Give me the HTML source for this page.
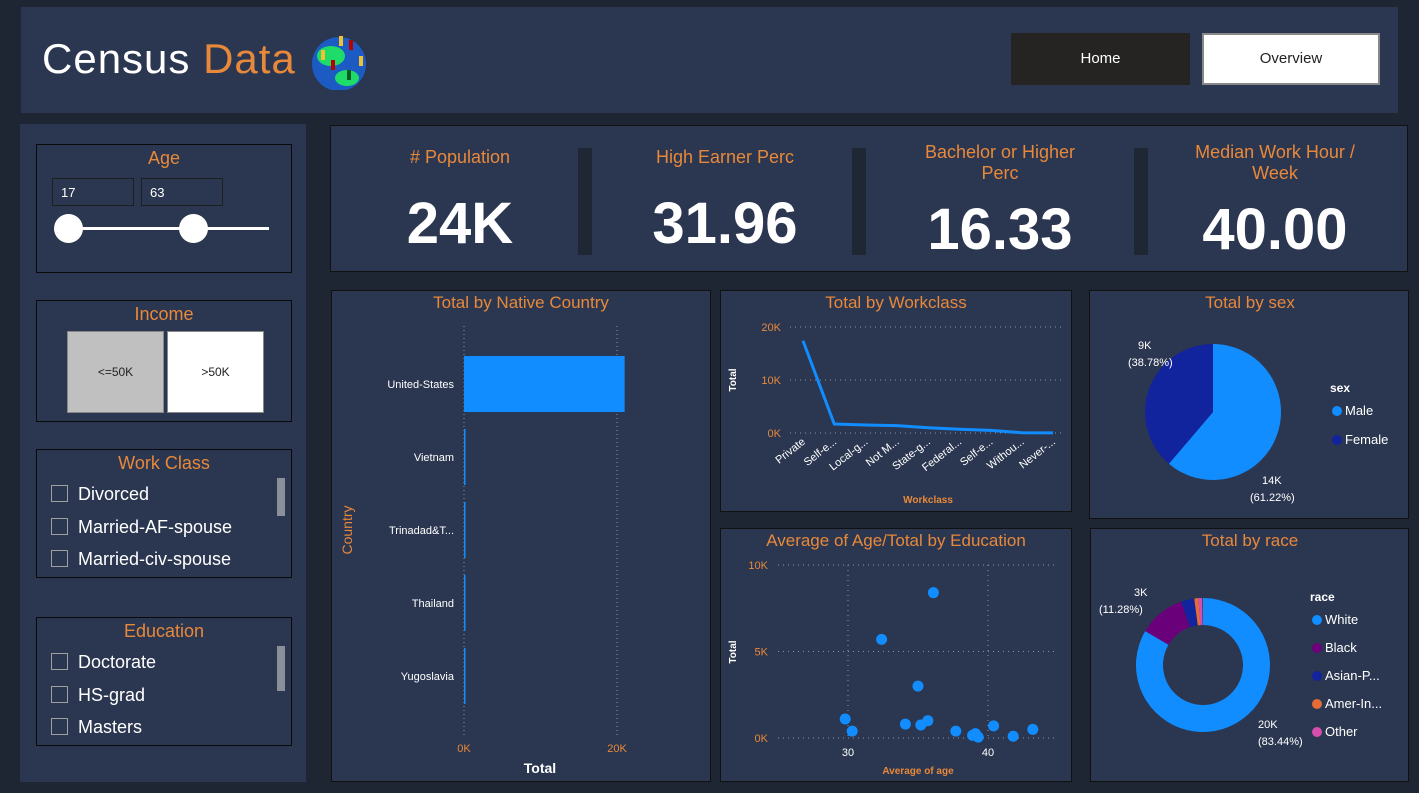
<!DOCTYPE html>
<html><head><meta charset="utf-8"><style>
*{margin:0;padding:0;box-sizing:border-box}
body{width:1419px;height:793px;background:#1e2633;font-family:"Liberation Sans",sans-serif;overflow:hidden;position:relative}
.p{position:absolute;background:#2b3750}
.box{position:absolute;border:1.5px solid #0a0a0a;background:#2b3750}
.t{position:absolute;color:#e8883a;text-align:center;width:100%}
.kt{position:absolute;color:#e8883a;font-size:18px;text-align:center;line-height:21px}
.kv{position:absolute;color:#fff;font-size:58px;text-align:center;font-weight:bold}
.sep{position:absolute;background:#1f2735;width:14px;top:148px;height:107px}
.cb{position:absolute;left:14px;font-size:18px;color:#fff}
.cb i{display:inline-block;width:17px;height:17px;border:1px solid #a0a0a0;vertical-align:-2px;margin-right:10px}
.scroll{position:absolute;right:6px;width:8px;height:38px;background:#8a8f99}
svg text{font-family:"Liberation Sans",sans-serif}
</style></head><body>
<div class="p" style="left:21px;top:7px;width:1377px;height:106px">
 <div style="position:absolute;left:21px;top:28px;font-size:42px;color:#fff;letter-spacing:1px">Census <span style="color:#e8883a">Data</span></div>
 <svg style="position:absolute;left:288px;top:23px" width="60" height="60"><circle cx="30" cy="34" r="27" fill="#1c5bc4"/><ellipse cx="22" cy="26" rx="14" ry="10" fill="#1fdc6a"/><ellipse cx="38" cy="48" rx="12" ry="8" fill="#1fdc6a"/><rect x="30" y="6" width="4" height="10" fill="#f2c12e"/><rect x="40" y="10" width="4" height="10" fill="#b00"/><rect x="12" y="20" width="4" height="10" fill="#f2c12e"/><rect x="22" y="30" width="4" height="10" fill="#b00"/><rect x="38" y="40" width="4" height="10" fill="#0a5c1e"/><rect x="50" y="26" width="4" height="10" fill="#f2c12e"/></svg>
</div>
<div style="position:absolute;left:1011px;top:33px;width:179px;height:52px;background:#252423;color:#fff;font-size:15px;text-align:center;line-height:52px">Home</div>
<div style="position:absolute;left:1202px;top:33px;width:178px;height:52px;background:#fff;border:2px solid #888;color:#222;font-size:15px;text-align:center;line-height:48px">Overview</div>

<div class="p" style="left:20px;top:124px;width:286px;height:658px"></div>
<div class="box" style="left:36px;top:144px;width:256px;height:129px">
 <div class="t" style="top:3px;font-size:18px">Age</div>
 <div style="position:absolute;left:15px;top:33px;width:82px;height:28px;border:1.5px solid #1f1f1f;color:#fff;font-size:13px;padding:6px 8px">17</div>
 <div style="position:absolute;left:104px;top:33px;width:82px;height:28px;border:1.5px solid #1f1f1f;color:#fff;font-size:13px;padding:6px 8px">63</div>
 <div style="position:absolute;left:32px;top:82px;width:200px;height:3px;background:#fff"></div>
 <div style="position:absolute;left:17px;top:69px;width:29px;height:29px;border-radius:50%;background:#fff"></div>
 <div style="position:absolute;left:142px;top:69px;width:29px;height:29px;border-radius:50%;background:#fff"></div>
</div>
<div class="box" style="left:36px;top:300px;width:256px;height:122px">
 <div class="t" style="top:3px;font-size:18px">Income</div>
 <div style="position:absolute;left:30px;top:30px;width:97px;height:82px;background:#c0c0c0;border:1px solid #888;color:#222;font-size:12px;text-align:center;line-height:80px">&lt;=50K</div>
 <div style="position:absolute;left:130px;top:30px;width:97px;height:82px;background:#fff;border:1px solid #888;color:#222;font-size:12px;text-align:center;line-height:80px">&gt;50K</div>
</div>
<div class="box" style="left:36px;top:449px;width:256px;height:129px">
 <div class="t" style="top:3px;font-size:18px">Work Class</div>
 <div class="cb" style="top:34px"><i></i>Divorced</div>
 <div class="cb" style="top:67px"><i></i>Married-AF-spouse</div>
 <div class="cb" style="top:99px"><i></i>Married-civ-spouse</div>
 <div class="scroll" style="top:28px"></div>
</div>
<div class="box" style="left:36px;top:617px;width:256px;height:129px">
 <div class="t" style="top:3px;font-size:18px">Education</div>
 <div class="cb" style="top:34px"><i></i>Doctorate</div>
 <div class="cb" style="top:67px"><i></i>HS-grad</div>
 <div class="cb" style="top:99px"><i></i>Masters</div>
 <div class="scroll" style="top:28px;height:45px"></div>
</div>

<div class="p" style="left:330px;top:125px;width:1078px;height:147px;border:1px solid #111"></div>
<div class="kt" style="left:340px;top:147px;width:240px"># Population</div>
<div class="kv" style="left:340px;top:190px;width:240px">24K</div>
<div class="sep" style="left:578px"></div>
<div class="kt" style="left:600px;top:147px;width:250px">High Earner Perc</div>
<div class="kv" style="left:600px;top:190px;width:250px">31.96</div>
<div class="sep" style="left:852px"></div>
<div class="kt" style="left:880px;top:142px;width:240px">Bachelor or Higher<br>Perc</div>
<div class="kv" style="left:880px;top:196px;width:240px">16.33</div>
<div class="sep" style="left:1134px"></div>
<div class="kt" style="left:1160px;top:142px;width:230px">Median Work Hour /<br>Week</div>
<div class="kv" style="left:1160px;top:196px;width:230px">40.00</div>

<div class="p" style="left:331px;top:290px;width:380px;height:492px;border:1px solid #111"></div>
<div class="p" style="left:720px;top:290px;width:352px;height:222px;border:1px solid #111"></div>
<div class="p" style="left:1089px;top:290px;width:320px;height:229px;border:1px solid #111"></div>
<div class="p" style="left:720px;top:528px;width:352px;height:254px;border:1px solid #111"></div>
<div class="p" style="left:1090px;top:528px;width:319px;height:254px;border:1px solid #111"></div>

<svg id="c" width="1419" height="793" style="position:absolute;left:0;top:0">
 <g font-size="17" fill="#e8883a" text-anchor="middle">
  <text x="521" y="308">Total by Native Country</text>
  <text x="896" y="308">Total by Workclass</text>
  <text x="1250" y="308">Total by sex</text>
  <text x="896" y="546">Average of Age/Total by Education</text>
  <text x="1250" y="546">Total by race</text>
 </g>
 <text x="540" y="773" font-size="14" font-weight="bold" fill="#fff" text-anchor="middle">Total</text>
 <text transform="translate(352,530) rotate(-90)" font-size="14" fill="#e8883a" text-anchor="middle">Country</text>
 <text x="928" y="503" font-size="10" fill="#e8883a" text-anchor="middle" font-weight="bold">Workclass</text>
 <text transform="translate(736,380) rotate(-90)" font-size="10" fill="#fff" font-weight="bold" text-anchor="middle">Total</text>
 <text x="918" y="774" font-size="10" fill="#e8883a" text-anchor="middle" font-weight="bold">Average of age</text>
 <text transform="translate(736,652) rotate(-90)" font-size="10" fill="#fff" font-weight="bold" text-anchor="middle">Total</text>
 <g id="g"></g>
</svg>
<script>
const countries=["United-States","Vietnam","Trinadad&T...","Thailand","Yugoslavia"];
const countryVals=[21000,60,20,20,15];
const countryTicks=[0,20000];
const wcCats=["Private","Self-e...","Local-g...","Not M...","State-g...","Federal...","Self-e...","Withou...","Never-..."];
const wcVals=[17400,1700,1500,1400,1000,700,500,50,30];
const wcTicks=[0,10000,20000];
const sexCats=["Male","Female"];
const sexVals=[61.22,38.78];
const sexLabels=["14K","9K"];
const raceCats=["White","Black","Asian-P...","Amer-In...","Other"];
const raceVals=[83.44,11.28,3.2,1.0,0.9];
const eduAge=[29.8,30.3,32.4,34.1,35.0,35.2,35.7,36.1,37.7,38.9,39.1,39.3,40.4,41.8,43.2];
const eduTotal=[1100,400,5700,800,3000,750,1000,8400,400,150,250,50,700,100,500];
const scXTicks=[30,40];
const scYTicks=[0,5000,10000];
const NS="http://www.w3.org/2000/svg",G=document.getElementById('g');
function el(t,a,txt){const e=document.createElementNS(NS,t);for(const k in a)e.setAttribute(k,a[k]);if(txt!=null)e.textContent=txt;G.appendChild(e);return e;}
const fmt=v=>(v/1000)+"K";
// country bar
const cx=v=>464+v*(153/20000), cy=i=>384+i*73;
countryTicks.forEach(t=>{el('line',{x1:cx(t),x2:cx(t),y1:326,y2:738,stroke:'#8a93a5','stroke-dasharray':'1,3'});
 const e=el('text',{x:cx(t),y:752,'font-size':11,fill:'#e8883a','text-anchor':'middle'},fmt(t));
 });
countries.forEach((c,i)=>{const l=el('text',{x:454,y:cy(i)+4,'font-size':11,fill:'#fff','text-anchor':'end'},c);
 
 const b=el('rect',{x:464,y:cy(i)-28,width:Math.max(1.5,cx(countryVals[i])-464),height:56,fill:'#118dff'});
 });
// workclass line
const wx=i=>803+i*31.25, wy=v=>433-v*(106/20000);
wcTicks.forEach(t=>{el('line',{x1:790,x2:1065,y1:wy(t),y2:wy(t),stroke:'#8a93a5','stroke-dasharray':'1,4'});
 const e=el('text',{x:781,y:wy(t)+4,'font-size':11,fill:'#e8883a','text-anchor':'end'},fmt(t));
 });
const ln=el('polyline',{points:wcVals.map((v,i)=>wx(i)+','+wy(v)).join(' '),fill:'none',stroke:'#118dff','stroke-width':3});

wcCats.forEach((c,i)=>{const e=el('text',{transform:`translate(${wx(i)+3},${443}) rotate(-38)`,'font-size':11,fill:'#fff','text-anchor':'end'},c);
 });
// scatter
const sx=a=>848+(a-30)*14, sy=v=>738-v*0.0173;
scYTicks.forEach(t=>{el('line',{x1:778,x2:1058,y1:sy(t),y2:sy(t),stroke:'#8a93a5','stroke-dasharray':'1,4'});
 const e=el('text',{x:768,y:sy(t)+4,'font-size':11,fill:'#e8883a','text-anchor':'end'},fmt(t));
 });
scXTicks.forEach(t=>{el('line',{x1:sx(t),x2:sx(t),y1:565,y2:738,stroke:'#8a93a5','stroke-dasharray':'1,4'});
 const e=el('text',{x:sx(t),y:756,'font-size':11,fill:'#fff','text-anchor':'middle'},t);
 });
eduAge.forEach((a,i)=>{const d=el('circle',{cx:sx(a),cy:sy(eduTotal[i]),r:5.5,fill:'#118dff'});
 });
// pie helpers
function arc(cx0,cy0,r,r0,a0,a1){const p=(r_,a)=>[cx0+r_*Math.sin(a),cy0-r_*Math.cos(a)];const L=a1-a0>Math.PI?1:0;
 const [x1,y1]=p(r,a0),[x2,y2]=p(r,a1);
 if(!r0)return `M${cx0},${cy0}L${x1},${y1}A${r},${r} 0 ${L} 1 ${x2},${y2}Z`;
 const [x3,y3]=p(r0,a1),[x4,y4]=p(r0,a0);
 return `M${x1},${y1}A${r},${r} 0 ${L} 1 ${x2},${y2}L${x3},${y3}A${r0},${r0} 0 ${L} 0 ${x4},${y4}Z`;}
// sex pie
const sexCol=['#118dff','#12239e'];let a=0;
sexVals.forEach((v,i)=>{const a1=a+v/100*2*Math.PI;const s=el('path',{d:arc(1213,412,68,0,a,a1),fill:sexCol[i]});
 a=a1;});
el('text',{x:1262,y:484,'font-size':11,fill:'#fff'},sexLabels[0]+"");
el('text',{x:1250,y:501,'font-size':11,fill:'#fff'},"("+sexVals[0].toFixed(2)+"%)");
el('text',{x:1138,y:349,'font-size':11,fill:'#fff'},sexLabels[1]);
el('text',{x:1128,y:366,'font-size':11,fill:'#fff'},"("+sexVals[1].toFixed(2)+"%)");
el('text',{x:1330,y:392,'font-size':12,'font-weight':'bold',fill:'#fff'},'sex');
sexCats.forEach((c,i)=>{el('circle',{cx:1337,cy:411+i*29,r:5,fill:sexCol[i]});
 const e=el('text',{x:1345,y:415+i*29,'font-size':13,fill:'#fff'},c);
 });
// race donut
const raceCol=['#118dff','#6b007b','#12239e','#e66c37','#d64faf'];a=0;
raceVals.forEach((v,i)=>{const a1=a+v/100*2*Math.PI;const s=el('path',{d:arc(1203,665,67,40,a,a1),fill:raceCol[i]});
 a=a1;});
el('text',{x:1258,y:728,'font-size':11,fill:'#fff'},'20K');
el('text',{x:1258,y:745,'font-size':11,fill:'#fff'},"("+raceVals[0].toFixed(2)+"%)");
el('text',{x:1134,y:596,'font-size':11,fill:'#fff'},'3K');
el('text',{x:1099,y:613,'font-size':11,fill:'#fff'},"("+raceVals[1].toFixed(2)+"%)");
el('text',{x:1310,y:601,'font-size':12,'font-weight':'bold',fill:'#fff'},'race');
raceCats.forEach((c,i)=>{el('circle',{cx:1317,cy:620+i*28,r:5,fill:raceCol[i]});
 const e=el('text',{x:1325,y:624+i*28,'font-size':13,fill:'#fff'},c);
 });
</script>
</body></html>
